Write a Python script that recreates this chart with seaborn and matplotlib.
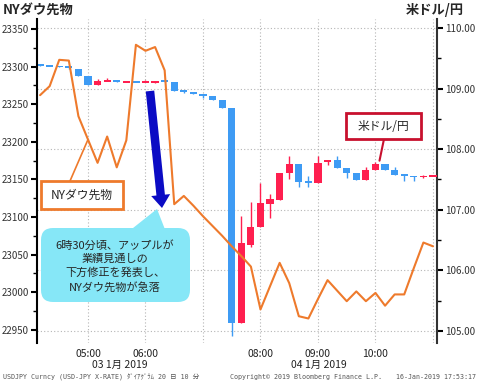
import matplotlib
matplotlib.use("Agg")
import numpy as np
import matplotlib.pyplot as plt
from matplotlib.patches import Rectangle, FancyBboxPatch, Polygon, FancyArrow
import seaborn as sns

# 10-minute bars
times = ["04:10", "04:20", "04:30", "04:40", "04:50",
         "05:00", "05:10", "05:20", "05:30", "05:40", "05:50",
         "06:00", "06:10", "06:20", "06:30", "06:40", "06:50",
         "07:00", "07:10", "07:20", "07:30", "07:40", "07:50",
         "08:00", "08:10", "08:20", "08:30", "08:40", "08:50",
         "09:00", "09:10", "09:20", "09:30", "09:40", "09:50",
         "10:00", "10:10", "10:20", "10:30", "10:40", "10:50", "11:00"]

# NY Dow futures (left axis)
dow_futures = [23262, 23274, 23309, 23308, 23234,
               23203, 23172, 23207, 23166, 23202, 23329,
               23321, 23326, 23295, 23117, 23128, 23115,
               23101, 23088, 23075, 23061, 23048, 23034,
               22977, 23008, 23039, 23012, 22968, 22965,
               22991, 23016, 23002, 22988, 23001, 22988,
               22999, 22982, 22997, 22997, 23032, 23066, 23061]

# USD/JPY candles (right axis)
usdjpy_open = [109.40, 109.38, 109.37, 109.36, 109.33,
               109.21, 109.06, 109.12, 109.14, 109.11, 109.12,
               109.11, 109.10, 109.13, 109.11, 108.97, 108.95,
               108.91, 108.88, 108.82, 108.68, 105.13, 106.42,
               106.71, 107.10, 107.16, 107.60, 107.76, 107.48,
               107.44, 107.78, 107.82, 107.69, 107.60, 107.49,
               107.66, 107.76, 107.65, 107.59, 107.56, 107.54, 107.55]
usdjpy_high = [109.40, 109.39, 109.37, 109.37, 109.33,
               109.21, 109.16, 109.17, 109.14, 109.12, 109.12,
               109.15, 109.13, 109.13, 109.11, 108.97, 108.95,
               108.91, 108.88, 108.82, 108.68, 106.89, 107.13,
               107.44, 107.26, 107.61, 107.89, 107.76, 107.56,
               107.88, 107.82, 107.88, 107.69, 107.60, 107.71,
               107.79, 107.76, 107.70, 107.59, 107.56, 107.58, 107.56]
usdjpy_low = [109.38, 109.37, 109.36, 109.33, 109.21,
              109.06, 109.06, 109.12, 109.11, 109.11, 109.11,
              109.11, 109.10, 109.11, 108.96, 108.92, 108.91,
              108.84, 108.82, 108.68, 104.91, 105.13, 106.39,
              106.71, 106.86, 107.16, 107.50, 107.38, 107.38,
              107.44, 107.74, 107.69, 107.53, 107.49, 107.49,
              107.66, 107.66, 107.57, 107.48, 107.48, 107.52, 107.55]
usdjpy_close = [109.38, 109.37, 109.36, 109.34, 109.21,
                109.06, 109.13, 109.14, 109.11, 109.12, 109.11,
                109.12, 109.13, 109.11, 108.96, 108.95, 108.91,
                108.87, 108.82, 108.68, 105.13, 106.45, 106.72,
                107.11, 107.17, 107.61, 107.76, 107.46, 107.44,
                107.77, 107.82, 107.69, 107.60, 107.49, 107.65,
                107.76, 107.66, 107.57, 107.55, 107.54, 107.56, 107.56]

hour_ticks = [5, 6, 7, 8, 9, 10, 11]
hour_labels = ["05:00", "06:00", "", "08:00", "09:00", "10:00", ""]
dow_ticks = [22950, 23000, 23050, 23100, 23150, 23200, 23250, 23300, 23350]
yen_ticks = [105, 106, 107, 108, 109, 110]
date_labels = ["03 1月 2019", "04 1月 2019"]
callout_lines = ["6時30分頃、アップルが", "業績見通しの", "下方修正を発表し、", "NYダウ先物が急落"]

ORANGE = "#ee7a2c"
BLUE = "#3e9bf4"
RED = "#ff1f4f"

sns.set_theme(style="white")
plt.rcParams["font.family"] = ["Noto Sans CJK JP", "DejaVu Sans"]

W, H = 478, 383
fig = plt.figure(figsize=(W / 100, H / 100), dpi=100)


def P(x, y):
    # image pixel -> inches from bottom-left
    return (x / 100, (H - y) / 100)


ax = fig.add_axes([37 / W, 1 - 343 / H, 400 / W, 324 / H])
ax2 = ax.twinx()

x = np.array([int(t[:2]) + int(t[3:]) / 60 for t in times])

# candles on the yen axis
o = np.array(usdjpy_open)
c = np.array(usdjpy_close)
colors = np.where(c >= o, RED, BLUE)
body = np.abs(c - o)
height = np.maximum(body, 0.03)
bottom = np.where(body < 0.03, (o + c) / 2 - 0.015, np.minimum(o, c))
ax.vlines(x, usdjpy_low, usdjpy_high, colors=colors, lw=1, zorder=2)
ax.bar(x, height, bottom=bottom, width=0.125, color=colors, linewidth=0, zorder=3)

# Dow futures line
sns.lineplot(x=x, y=dow_futures, ax=ax2, color=ORANGE, lw=1.5)
ax2.set_ylabel("")

ax.yaxis.tick_right()
ax.set_yticks(yen_ticks, [f"{v:.2f}" for v in yen_ticks])
ax.set_yticks(np.arange(105, 110.01, 0.5), minor=True)
ax2.yaxis.tick_left()
ax2.set_yticks(dow_ticks, [str(v) for v in dow_ticks])
ax2.set_yticks(np.arange(22950, 23351, 25), minor=True)
ax.set_xticks(hour_ticks, hour_labels)

ax.set_xlim(4.113, 11.07)
ax.set_ylim(104.80, 110.149)
ax2.set_ylim(22932.4, 23363.3)

ax.tick_params(axis="x", length=0, pad=4, labelsize=7.5, labelcolor="#222")
for a in (ax, ax2):
    a.tick_params(axis="y", which="major", direction="out", length=4, width=1.5,
                  color="black", labelsize=7, labelcolor="#333", pad=2)
    a.tick_params(axis="y", which="minor", direction="out", length=3, width=1,
                  color="black", left=(a is ax2), right=(a is ax))
    a.spines["top"].set_visible(False)
    a.spines["bottom"].set_visible(False)
ax.spines["left"].set_visible(False)
ax2.spines["right"].set_visible(False)
ax.spines["right"].set_color("#333")
ax.spines["right"].set_linewidth(1.5)
ax2.spines["left"].set_color("black")
ax2.spines["left"].set_linewidth(1.5)

ax.grid(True, which="major", color="#b5b5b5", ls=(0, (1, 2)), lw=0.8)
ax.set_axisbelow(True)

for lab, pos in zip(date_labels, [5.56, 9.02]):
    ax.text(pos, -0.068, lab, transform=ax.get_xaxis_transform(), ha="center",
            va="center", fontsize=7.5, color="#222")

fig.text(3 / W, 1 - 10 / H, "NYダウ先物", fontsize=9.5, fontweight="bold", va="center")
fig.text(406 / W, 1 - 10 / H, "米ドル/円", fontsize=9.5, fontweight="bold", va="center")

# footer
foot = dict(fontsize=4.8, color="#555", va="center", family=["DejaVu Sans Mono", "Noto Sans CJK JP"])
fig.text(3 / W, 1 - 377 / H, "USDJPY Curncy (USD-JPY X-RATE) ﾀﾞｲｱｸﾞﾗﾑ 20 日 10 分", **foot)
fig.text(230 / W, 1 - 377 / H, "Copyright© 2019 Bloomberg Finance L.P.", **foot)
fig.text(476 / W, 1 - 377 / H, "16-Jan-2019 17:53:17", ha="right", **foot)

# NY Dow label box
ax2.annotate("", xy=(x[5], dow_futures[5]), xytext=(70 / W, 1 - 181 / H),
             textcoords="figure fraction",
             arrowprops=dict(arrowstyle="-", color=ORANGE, lw=1.2, shrinkA=0, shrinkB=0))
fig.add_artist(Rectangle(P(41, 209), 0.82, 0.28, transform=fig.dpi_scale_trans,
                         fc="white", ec=ORANGE, lw=2))
fig.text(82 / W, 1 - 195 / H, "NYダウ先物", fontsize=8.5, ha="center", va="center")

# USD/JPY label box
ax.annotate("", xy=(10.07, 107.81), xytext=(384 / W, 1 - 139 / H),
            textcoords="figure fraction",
            arrowprops=dict(arrowstyle="-", color="#c8102e", lw=1.5, shrinkA=0, shrinkB=0))
fig.add_artist(Rectangle(P(346, 139), 0.75, 0.26, transform=fig.dpi_scale_trans,
                         fc="white", ec="#c8102e", lw=2))
fig.text(383.5 / W, 1 - 126 / H, "米ドル/円", fontsize=8.5, ha="center", va="center")

# callout bubble
fig.add_artist(Polygon([P(128, 232), P(157, 209), P(166, 232)], closed=True,
                       transform=fig.dpi_scale_trans, fc="#86e7f7", ec="none"))
fig.add_artist(FancyBboxPatch(P(41, 302), 1.49, 0.74, boxstyle="round,pad=0,rounding_size=0.12",
                              transform=fig.dpi_scale_trans, fc="#86e7f7", ec="none"))
for i, line in enumerate(callout_lines):
    fig.text(115 / W, 1 - (245 + i * 14) / H, line, fontsize=8, ha="center", va="center")

# big blue arrow
x0, y0 = P(150, 91)
x1, y1 = P(162, 208)
fig.add_artist(FancyArrow(x0, y0, x1 - x0, y1 - y0, width=0.085, head_width=0.19,
                          head_length=0.13, length_includes_head=True,
                          transform=fig.dpi_scale_trans, fc="#0b0bc4", ec="none"))

fig.savefig("out.png", dpi=100)
